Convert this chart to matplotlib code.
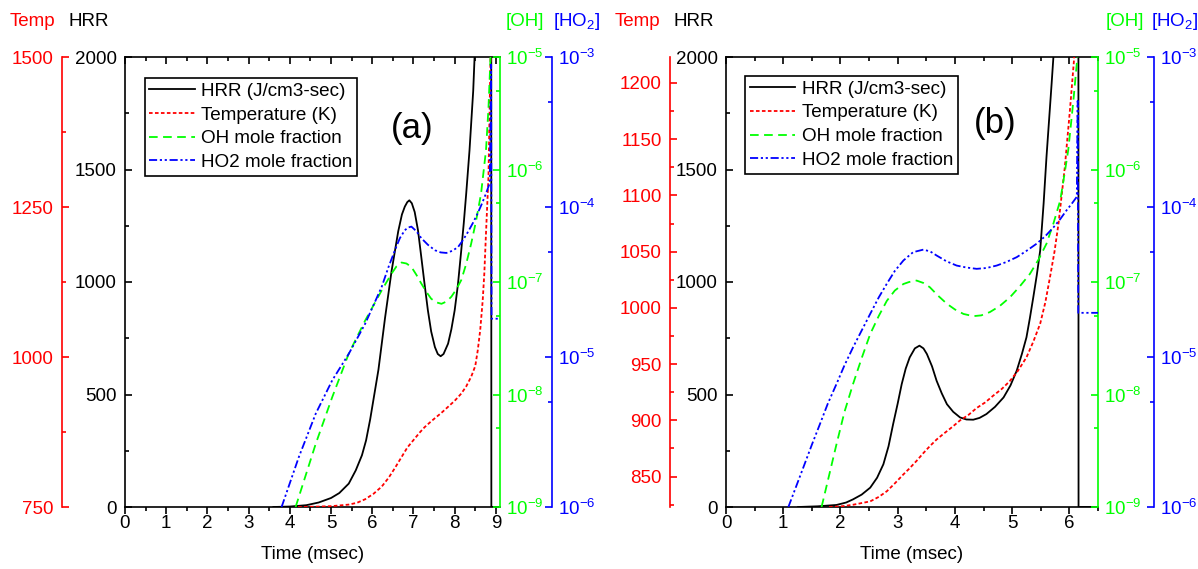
import numpy as np
import matplotlib
matplotlib.use('Agg')
import matplotlib.pyplot as plt
from matplotlib.ticker import MultipleLocator, FixedLocator, FuncFormatter, NullFormatter

plt.rcParams['font.family'] = ['Liberation Sans', 'DejaVu Sans']
plt.rcParams['mathtext.default'] = 'regular'

RED = '#ff0000'
GREEN = '#00ff00'
BLUE = '#0000ff'

# ---- panel (a) data ----
ta_hrr = [3.6, 4.0, 4.4, 4.7, 5.0, 5.2, 5.43, 5.6, 5.75, 5.85, 5.95, 6.05, 6.15, 6.31, 6.47,
          6.63, 6.72, 6.79, 6.85, 6.9, 6.96, 7.03, 7.11, 7.19, 7.27, 7.35, 7.43, 7.52, 7.59,
          7.66, 7.73, 7.84, 7.92, 8.0, 8.08, 8.16, 8.22, 8.28, 8.36, 8.45, 8.55, 8.88, 8.89, 9.1]
a_hrr = [0, 2, 8, 20, 40, 62, 104, 163, 230, 296, 390, 500, 610, 840, 1050,
         1225, 1300, 1335, 1355, 1363, 1350, 1311, 1230, 1111, 990, 874, 780, 711, 680,
         670, 680, 726, 790, 874, 990, 1141, 1260, 1393, 1585, 1850, 2300, 9000, 0, 0]

ta_temp = [4.2, 4.6, 5.03, 5.43, 5.63, 5.83, 6.03, 6.23, 6.4, 6.55, 6.7, 6.85, 7.03, 7.15, 7.27,
           7.4, 7.52, 7.68, 7.84, 8.0, 8.16, 8.28, 8.4, 8.5, 8.56, 8.62, 8.68, 8.72, 8.76, 8.82,
           8.87, 8.9, 9.1]
a_temp = [750, 750.5, 751.5, 754, 757, 763, 772, 784, 799, 815, 832, 849, 864, 874, 883,
          891, 898, 907, 917, 927, 939, 951, 967, 985, 1011, 1045, 1094, 1140, 1206, 1300,
          1500, 2300, 2400]

ta_oh = [4.14, 4.63, 5.03, 5.43, 5.83, 6.23, 6.47, 6.59, 6.71, 6.83, 6.95, 7.07, 7.19, 7.31,
         7.43, 7.55, 7.68, 7.8, 7.92, 8.04, 8.16, 8.28, 8.4, 8.52, 8.64, 8.76, 8.82, 8.87, 8.9, 9.1]
a_oh = [1.0e-9, 3.66e-9, 9.5e-9, 2.31e-8, 4.56e-8, 8.43e-8, 1.19e-7, 1.38e-7, 1.49e-7, 1.46e-7,
        1.36e-7, 1.16e-7, 9.7e-8, 8.2e-8, 7.1e-8, 6.6e-8, 6.4e-8, 6.7e-8, 7.4e-8, 8.6e-8,
        1.04e-7, 1.45e-7, 2.19e-7, 3.5e-7, 6.1e-7, 1.48e-6, 3.5e-6, 1.0e-5, 3e-5, 3e-5]

ta_ho2 = [3.8, 4.22, 4.63, 5.03, 5.43, 5.83, 6.23, 6.39, 6.55, 6.67, 6.79, 6.87, 6.95, 7.07,
          7.19, 7.35, 7.52, 7.66, 7.8, 7.94, 8.08, 8.2, 8.32, 8.44, 8.56, 8.66, 8.76, 8.85,
          8.885, 8.895, 9.1]
a_ho2 = [1.0e-6, 2.16e-6, 4.2e-6, 7.0e-6, 1.05e-5, 1.67e-5, 2.94e-5, 3.95e-5, 5.15e-5, 6.2e-5,
         7.0e-5, 7.3e-5, 7.4e-5, 6.9e-5, 6.2e-5, 5.6e-5, 5.15e-5, 4.98e-5, 4.94e-5, 5.1e-5,
         5.4e-5, 6.0e-5, 6.8e-5, 7.8e-5, 9.1e-5, 1.05e-4, 1.23e-4, 1.44e-4, 8.9e-4, 1.8e-5, 1.8e-5]

# ---- panel (b) data ----
tb_hrr = [1.26, 1.6, 1.93, 2.1, 2.22, 2.37, 2.52, 2.64, 2.75, 2.84, 2.92, 3.0, 3.07, 3.14, 3.21,
          3.3, 3.38, 3.45, 3.51, 3.6, 3.68, 3.77, 3.86, 3.97, 4.09, 4.2, 4.32, 4.43, 4.55, 4.7,
          4.85, 4.97, 5.08, 5.17, 5.25, 5.31, 5.37, 5.43, 5.49, 5.55, 5.6, 5.69, 5.8, 6.15,
          6.16, 6.5]
b_hrr = [0, 3, 9, 20, 34, 55, 86, 130, 190, 270, 368, 460, 546, 615, 665,
         705, 717, 705, 680, 625, 561, 505, 457, 423, 398, 389, 388, 396, 413, 445,
         487, 540, 606, 680, 754, 840, 933, 1030, 1140, 1350, 1556, 1883, 2300, 9000,
         0, 0]

tb_temp = [1.8, 2.0, 2.22, 2.52, 2.67, 2.81, 2.95, 3.1, 3.2, 3.33, 3.45, 3.56, 3.68, 3.8, 3.95,
           4.09, 4.24, 4.38, 4.53, 4.67, 4.82, 4.96, 5.1, 5.25, 5.37, 5.49, 5.58, 5.66, 5.74,
           5.81, 5.92, 6.01, 6.08, 6.12, 6.5]
b_temp = [823, 823.5, 825, 828, 832, 837, 844, 852, 857, 864, 871, 877, 883, 888, 894,
          900, 905, 911, 916, 922, 928, 935, 944, 956, 970, 986, 1005, 1027, 1050,
          1075, 1125, 1176, 1220, 1300, 1500]

tb_oh = [1.67, 1.93, 2.07, 2.22, 2.37, 2.52, 2.67, 2.81, 2.95, 3.1, 3.2, 3.33, 3.45, 3.56, 3.7,
         3.86, 4.0, 4.15, 4.32, 4.46, 4.61, 4.78, 4.96, 5.13, 5.31, 5.46, 5.6, 5.72, 5.84, 5.91,
         5.98, 6.03, 6.07, 6.14, 6.2, 6.5]
b_oh = [1.0e-9, 3.6e-9, 7.0e-9, 1.24e-8, 2.1e-8, 3.45e-8, 5.0e-8, 6.8e-8, 8.4e-8, 9.6e-8,
        1.0e-7, 1.03e-7, 9.8e-8, 9.0e-8, 7.6e-8, 6.4e-8, 5.7e-8, 5.2e-8, 4.97e-8, 5.05e-8,
        5.4e-8, 6.1e-8, 7.3e-8, 9.1e-8, 1.18e-7, 1.58e-7, 2.19e-7, 3.3e-7, 5.3e-7, 8.8e-7,
        1.49e-6, 2.6e-6, 4.1e-6, 1.0e-5, 5e-5, 5e-5]

tb_ho2 = [1.09, 1.35, 1.5, 1.64, 1.78, 1.93, 2.07, 2.22, 2.37, 2.52, 2.67, 2.81, 2.95, 3.1,
          3.27, 3.45, 3.57, 3.68, 3.85, 4.03, 4.2, 4.38, 4.55, 4.73, 4.9, 5.08, 5.25, 5.43,
          5.58, 5.72, 5.84, 5.95, 6.04, 6.13, 6.145, 6.155, 6.5]
b_ho2 = [1.0e-6, 1.83e-6, 2.6e-6, 3.56e-6, 4.9e-6, 6.6e-6, 8.8e-6, 1.16e-5, 1.5e-5, 1.94e-5,
         2.5e-5, 3.08e-5, 3.75e-5, 4.4e-5, 5.0e-5, 5.2e-5, 5.05e-5, 4.75e-5, 4.35e-5, 4.07e-5,
         3.95e-5, 3.87e-5, 3.92e-5, 4.07e-5, 4.3e-5, 4.63e-5, 5.1e-5, 5.7e-5, 6.4e-5, 7.3e-5,
         8.3e-5, 9.5e-5, 1.05e-4, 1.17e-4, 5.1e-4, 1.97e-5, 1.97e-5]

labels = ['HRR (J/cm3-sec)', 'Temperature (K)', 'OH mole fraction', 'HO2 mole fraction']

W, H = 1198, 569
FS = 13.5


def decade(v, pos):
    return r'$10^{%d}$' % int(round(np.log10(v)))


def panel(rect, xmax, temp_lim, temp_step, temp_pos, ho2_pos, series, tag, tag_xy, leg_xy):
    ax = fig.add_axes(rect)
    ax_t = ax.twinx()
    ax_oh = ax.twinx()
    ax_h = ax.twinx()

    # host: HRR + time axis
    ax.set_xlim(0, xmax)
    ax.set_ylim(0, 2000)
    ax.xaxis.set_major_locator(MultipleLocator(1))
    ax.xaxis.set_minor_locator(MultipleLocator(0.5))
    ax.yaxis.set_major_locator(MultipleLocator(500))
    ax.yaxis.set_minor_locator(MultipleLocator(250))
    ax.spines['right'].set_visible(False)
    for s in ['left', 'top', 'bottom']:
        ax.spines[s].set_linewidth(1.2)
    ax.tick_params(axis='x', which='both', direction='out', labelsize=FS, width=1.2, pad=1)
    ax.tick_params(axis='x', which='major', length=5)
    ax.tick_params(axis='x', which='minor', length=3)
    ax.tick_params(axis='y', which='both', direction='in', labelsize=FS, width=1.2, pad=6)
    ax.tick_params(axis='y', which='major', length=5)
    ax.tick_params(axis='y', which='minor', length=3)
    ax.set_xlabel('Time (msec)', fontsize=FS, labelpad=10)

    # temperature axis, offset on the left
    ax_t.set_ylim(*temp_lim)
    ax_t.yaxis.set_major_locator(MultipleLocator(temp_step))
    ax_t.yaxis.set_minor_locator(MultipleLocator(temp_step / 2))
    for s in ['right', 'top', 'bottom']:
        ax_t.spines[s].set_visible(False)
    ax_t.spines['left'].set_position(('axes', temp_pos))
    ax_t.spines['left'].set_color(RED)
    ax_t.spines['left'].set_linewidth(1.2)
    ax_t.yaxis.set_ticks_position('left')
    ax_t.yaxis.set_label_position('left')
    ax_t.tick_params(axis='y', which='both', direction='in', colors=RED, labelsize=FS, width=1.2, pad=6)
    ax_t.tick_params(axis='y', which='major', length=5)
    ax_t.tick_params(axis='y', which='minor', length=3)
    # mirrored time ticks along the top
    ax_t.xaxis.set_visible(True)
    ax_t.tick_params(axis='x', which='both', bottom=False, top=True, labelbottom=False,
                     labeltop=False, direction='in', width=1.2)
    ax_t.tick_params(axis='x', which='major', length=5)
    ax_t.tick_params(axis='x', which='minor', length=3)

    # log axes on the right
    for a, lim, col, pos, minors in [
            (ax_oh, (1e-9, 1e-5), GREEN, 1.0, [5e-9, 5e-8, 5e-7, 5e-6]),
            (ax_h, (1e-6, 1e-3), BLUE, ho2_pos, [5e-6, 5e-5, 5e-4])]:
        a.set_yscale('log')
        a.set_ylim(*lim)
        a.yaxis.set_major_locator(FixedLocator([10.0 ** k for k in range(-9, -2)]))
        a.yaxis.set_minor_locator(FixedLocator(minors))
        a.yaxis.set_major_formatter(FuncFormatter(decade))
        a.yaxis.set_minor_formatter(NullFormatter())
        for s in ['left', 'top', 'bottom']:
            a.spines[s].set_visible(False)
        a.spines['right'].set_position(('axes', pos))
        a.spines['right'].set_color(col)
        a.spines['right'].set_linewidth(1.2)
        a.tick_params(axis='y', which='both', direction='in', colors=col, labelsize=FS, width=1.2, pad=4.5)
        a.tick_params(axis='y', which='major', length=5)
        a.tick_params(axis='y', which='minor', length=3)

    (t1, y1), (t2, y2), (t3, y3), (t4, y4) = series
    l1, = ax.plot(t1, y1, color='black', lw=1.3)
    l2, = ax_t.plot(t2, y2, color=RED, lw=1.3, linestyle=(0, (2.0, 1.3)))
    l3, = ax_oh.plot(t3, y3, color=GREEN, lw=1.3, linestyle=(0, (4.8, 3.0)))
    l4, = ax_h.plot(t4, y4, color=BLUE, lw=1.3, linestyle=(0, (4.5, 1.5, 1.2, 1.5, 1.2, 1.5)))

    leg = ax_h.legend([l1, l2, l3, l4], labels, loc='upper left', bbox_to_anchor=leg_xy,
                      fontsize=13.6, frameon=True, fancybox=False, edgecolor='black',
                      framealpha=1, borderpad=0.25, handlelength=2.4, handletextpad=0.35,
                      labelspacing=0.34, borderaxespad=0)
    leg.get_frame().set_linewidth(1.2)

    ax_h.text(tag_xy[0], tag_xy[1], tag, transform=ax.transAxes, fontsize=25,
              ha='center', va='center')
    return ax


fig = plt.figure(figsize=(W / 100, H / 100), dpi=100)

panel([125 / W, 62 / H, 375 / W, 450 / H], 9.1, (750, 1500), 250, -0.168, 1.139,
      [(ta_hrr, a_hrr), (ta_temp, a_temp), (ta_oh, a_oh), (ta_ho2, a_ho2)],
      '(a)', (0.765, 0.842), (0.052, 0.953))
panel([726 / W, 62 / H, 372 / W, 450 / H], 6.5, (823, 1223), 50, -0.1505, 1.1505,
      [(tb_hrr, b_hrr), (tb_temp, b_temp), (tb_oh, b_oh), (tb_ho2, b_ho2)],
      '(b)', (0.723, 0.853), (0.051, 0.958))

# axis titles above each scale
ytitle = 1 - 22 / H
for x, txt, col in [(32, 'Temp', RED), (89, 'HRR', 'black'), (525, '[OH]', GREEN),
                    (577, '[HO$_2$]', BLUE), (637, 'Temp', RED), (694, 'HRR', 'black'),
                    (1125, '[OH]', GREEN), (1175, '[HO$_2$]', BLUE)]:
    fig.text(x / W, ytitle, txt, color=col, fontsize=FS, ha='center', va='center')

fig.savefig('out.png', dpi=100)
